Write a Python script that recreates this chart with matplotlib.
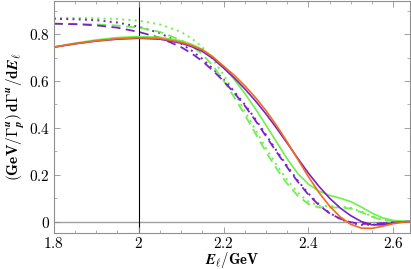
import matplotlib
matplotlib.use("Agg")
import matplotlib.pyplot as plt
from matplotlib.ticker import MultipleLocator, FuncFormatter

plt.rcParams["mathtext.fontset"] = "cm"
plt.rcParams["font.family"] = "serif"

# lepton energy grid (GeV)
e_lep = [1.8, 1.85, 1.9, 1.95, 2.0, 2.05, 2.1, 2.125, 2.15, 2.175, 2.2, 2.225,
         2.25, 2.275, 2.3, 2.325, 2.35, 2.375, 2.4, 2.425, 2.45, 2.475, 2.5,
         2.525, 2.55, 2.575, 2.6, 2.625, 2.64]

orange_solid = [0.745, 0.760, 0.772, 0.781, 0.785, 0.782, 0.766, 0.752, 0.734,
                0.703, 0.664, 0.625, 0.580, 0.530, 0.474, 0.410, 0.340, 0.266,
                0.192, 0.124, 0.066, 0.020, -0.012, -0.028, -0.029, -0.020,
                -0.009, -0.002, 0.0]
purple_solid = [0.745, 0.759, 0.771, 0.779, 0.783, 0.779, 0.762, 0.747, 0.727,
                0.696, 0.656, 0.614, 0.567, 0.516, 0.460, 0.399, 0.335, 0.270,
                0.207, 0.150, 0.100, 0.058, 0.025, 0.000, -0.014, -0.014,
                -0.006, -0.001, 0.0]
green_solid = [0.745, 0.762, 0.776, 0.786, 0.790, 0.787, 0.772, 0.757, 0.735,
               0.703, 0.660, 0.608, 0.548, 0.482, 0.412, 0.340, 0.268, 0.205,
               0.160, 0.130, 0.112, 0.100, 0.085, 0.062, 0.036, 0.016, 0.005,
               0.001, 0.0]
purple_dashed = [0.845, 0.843, 0.838, 0.828, 0.810, 0.785, 0.745, 0.718, 0.685,
                 0.645, 0.600, 0.550, 0.495, 0.432, 0.365, 0.297, 0.232, 0.170,
                 0.115, 0.070, 0.035, 0.012, -0.003, -0.010, -0.010, -0.007,
                 -0.003, 0.0, 0.0]
purple_dotted = [0.866, 0.864, 0.860, 0.850, 0.832, 0.805, 0.760, 0.730, 0.695,
                 0.653, 0.607, 0.556, 0.500, 0.438, 0.371, 0.303, 0.237, 0.175,
                 0.120, 0.073, 0.037, 0.011, -0.007, -0.014, -0.014, -0.008,
                 -0.003, 0.0, 0.0]
green_dashed = [0.845, 0.844, 0.842, 0.837, 0.828, 0.810, 0.775, 0.750, 0.715,
                0.665, 0.602, 0.532, 0.456, 0.377, 0.298, 0.226, 0.162, 0.110,
                0.075, 0.060, 0.060, 0.060, 0.055, 0.040, 0.020, 0.007, 0.002,
                0.0, 0.0]
green_dotted = [0.870, 0.870, 0.868, 0.865, 0.858, 0.842, 0.810, 0.782, 0.745,
                0.692, 0.627, 0.552, 0.472, 0.392, 0.313, 0.242, 0.178, 0.124,
                0.085, 0.068, 0.066, 0.065, 0.058, 0.043, 0.022, 0.008, 0.002,
                0.0, 0.0]

c_orange = "#f26a1b"
c_purple = "#7a22c6"
c_green = "#6ef04a"

fig = plt.figure(figsize=(4.11, 2.69), dpi=100)
ax = fig.add_axes([0.131, 0.132, 0.867, 0.866])

ax.axhline(0, color="#a0a0a0", lw=1.0, zorder=1)
ax.axvline(2.0, color="black", lw=0.8, zorder=1)

ax.plot(e_lep, green_dotted, color=c_green, lw=1.4, ls=(0, (1, 2.2)))
ax.plot(e_lep, purple_dotted, color=c_purple, lw=1.4, ls=(0, (1, 2.2)))
ax.plot(e_lep, green_dashed, color=c_green, lw=1.3, ls=(0, (5, 3)))
ax.plot(e_lep, purple_dashed, color=c_purple, lw=1.3, ls=(0, (5, 3)))
ax.plot(e_lep, green_solid, color=c_green, lw=1.2)
ax.plot(e_lep, purple_solid, color=c_purple, lw=1.2)
ax.plot(e_lep, orange_solid, color=c_orange, lw=1.2)

ax.set_xlim(1.8, 2.64)
ax.set_ylim(-0.051, 0.944)

ax.xaxis.set_major_locator(MultipleLocator(0.2))
ax.xaxis.set_minor_locator(MultipleLocator(0.05))
ax.yaxis.set_major_locator(MultipleLocator(0.2))
ax.yaxis.set_minor_locator(MultipleLocator(0.1))


def fmt(v, pos):
    s = "%g" % round(v, 3)
    return r"$\mathbf{%s}$" % s


ax.xaxis.set_major_formatter(FuncFormatter(fmt))
ax.yaxis.set_major_formatter(FuncFormatter(fmt))

ax.tick_params(which="both", direction="in", top=True, right=True,
               color="#909090", labelsize=11, pad=3)
ax.tick_params(axis="x", pad=2)
ax.tick_params(which="major", length=4, width=0.6)
ax.tick_params(which="minor", length=2, width=0.5)
for s in ax.spines.values():
    s.set_color("#909090")
    s.set_linewidth(0.8)

ax.set_xlabel(r"$\mathbfit{E}_{\mathbf{\ell}}\mathbf{/GeV}$", fontsize=10.5,
              labelpad=-1)
ax.set_ylabel(r"$\mathbf{(GeV/\Gamma^{\mathbfit{u}}_{\mathbfit{p}})\,d\Gamma^{\mathbfit{u}}/d}\mathbfit{E}_{\mathbf{\ell}}$",
              fontsize=11, labelpad=2)

fig.savefig("out.png", dpi=100)
